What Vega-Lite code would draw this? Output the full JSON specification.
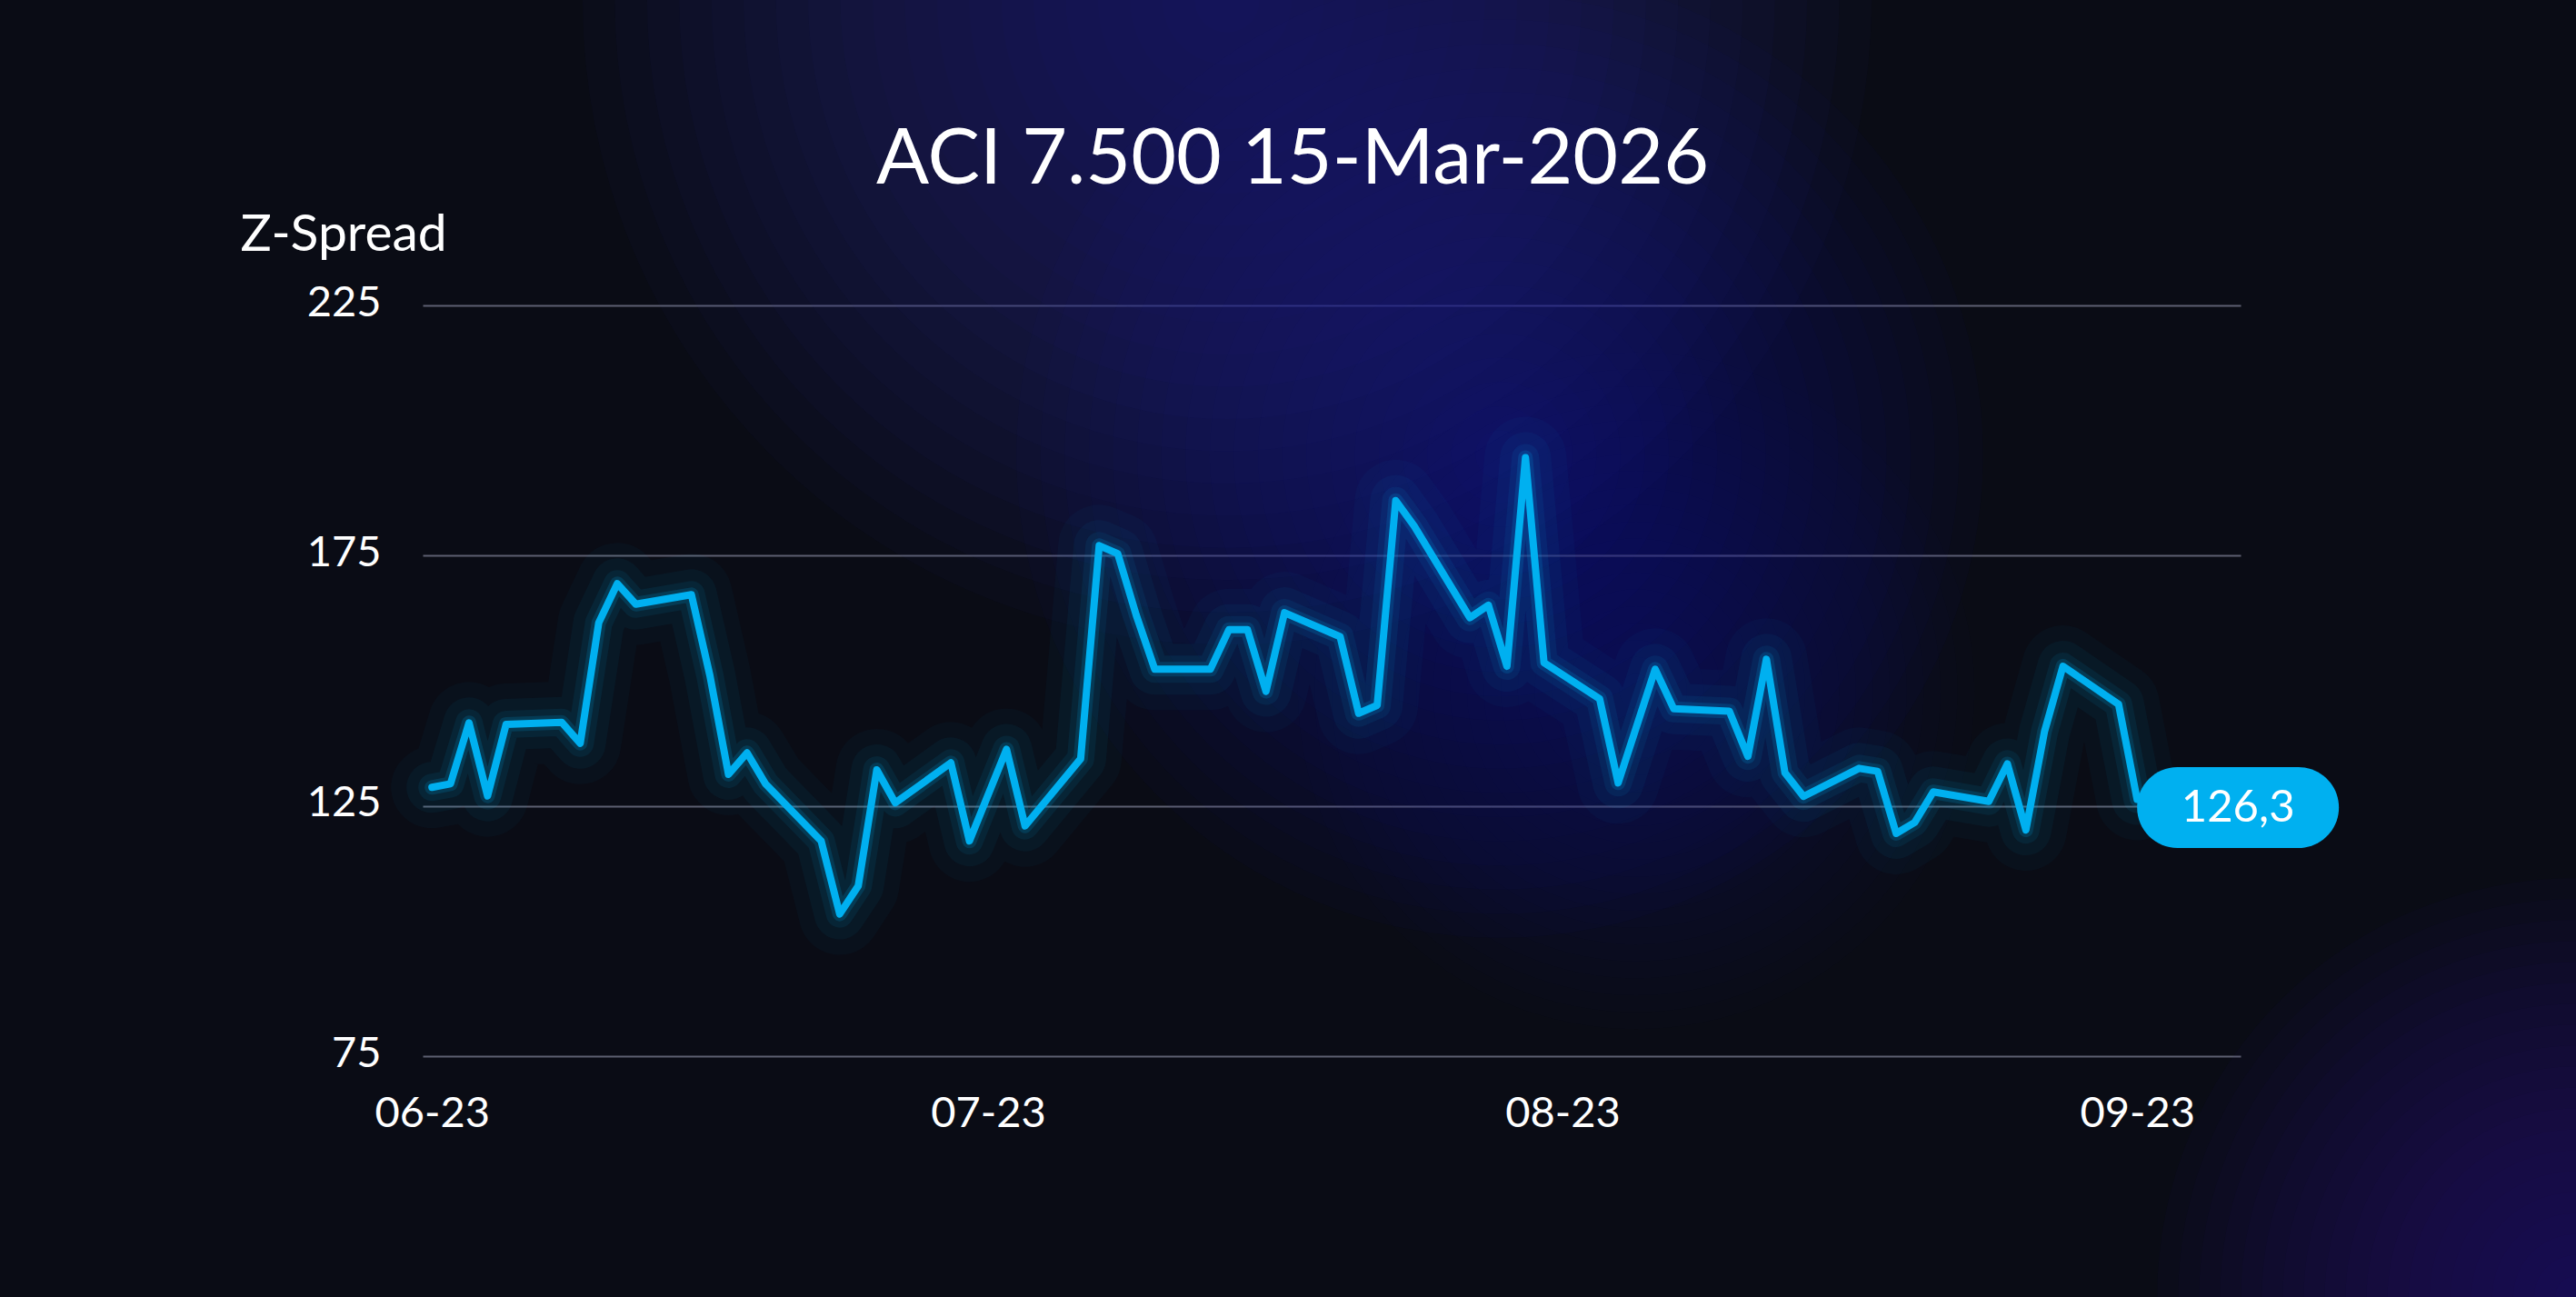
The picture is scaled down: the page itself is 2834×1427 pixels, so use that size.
{
  "$schema": "https://vega.github.io/schema/vega-lite/v6.json",
  "width": 2000,
  "height": 826,
  "autosize": {"type": "none"},
  "padding": {"left": 465, "top": 336, "right": 369, "bottom": 265},
  "background": "#0a0c15",
  "title": {
    "text": "ACI 7.500 15-Mar-2026",
    "font": "Lato",
    "fontSize": 86,
    "fontWeight": "normal",
    "color": "#ffffff",
    "anchor": "middle",
    "dx": -43,
    "baseline": "alphabetic",
    "offset": -997
  },
  "datasets": {
    "steps": [{"k": 1}, {"k": 2}, {"k": 3}, {"k": 4}, {"k": 5}, {"k": 6}, {"k": 7}, {"k": 8}, {"k": 9}, {"k": 10}, {"k": 11}, {"k": 12}, {"k": 13}, {"k": 14}, {"k": 15}, {"k": 16}, {"k": 17}, {"k": 18}, {"k": 19}, {"k": 20}],
    "series": [
      {"date": "2023-06-01T00:00:00", "value": 128.7},
      {"date": "2023-06-02T00:00:00", "value": 129.4},
      {"date": "2023-06-03T00:00:00", "value": 141.6},
      {"date": "2023-06-04T00:00:00", "value": 127.0},
      {"date": "2023-06-05T00:00:00", "value": 141.3},
      {"date": "2023-06-08T00:00:00", "value": 141.7},
      {"date": "2023-06-09T00:00:00", "value": 137.5},
      {"date": "2023-06-10T00:00:00", "value": 161.6},
      {"date": "2023-06-11T00:00:00", "value": 169.4},
      {"date": "2023-06-12T00:00:00", "value": 165.3},
      {"date": "2023-06-15T00:00:00", "value": 167.2},
      {"date": "2023-06-16T00:00:00", "value": 151.0},
      {"date": "2023-06-17T00:00:00", "value": 131.3},
      {"date": "2023-06-18T00:00:00", "value": 135.6},
      {"date": "2023-06-19T00:00:00", "value": 129.4},
      {"date": "2023-06-22T00:00:00", "value": 118.0},
      {"date": "2023-06-23T00:00:00", "value": 103.4},
      {"date": "2023-06-24T00:00:00", "value": 109.0},
      {"date": "2023-06-25T00:00:00", "value": 132.2},
      {"date": "2023-06-26T00:00:00", "value": 125.6},
      {"date": "2023-06-29T00:00:00", "value": 133.6},
      {"date": "2023-06-30T00:00:00", "value": 118.0},
      {"date": "2023-07-02T00:00:00", "value": 136.3},
      {"date": "2023-07-03T00:00:00", "value": 121.0},
      {"date": "2023-07-06T00:00:00", "value": 134.4},
      {"date": "2023-07-07T00:00:00", "value": 177.0},
      {"date": "2023-07-08T00:00:00", "value": 175.4},
      {"date": "2023-07-09T00:00:00", "value": 163.1},
      {"date": "2023-07-10T00:00:00", "value": 152.3},
      {"date": "2023-07-13T00:00:00", "value": 152.3},
      {"date": "2023-07-14T00:00:00", "value": 160.2},
      {"date": "2023-07-15T00:00:00", "value": 160.2},
      {"date": "2023-07-16T00:00:00", "value": 147.9},
      {"date": "2023-07-17T00:00:00", "value": 163.6},
      {"date": "2023-07-20T00:00:00", "value": 158.8},
      {"date": "2023-07-21T00:00:00", "value": 143.5},
      {"date": "2023-07-22T00:00:00", "value": 145.1},
      {"date": "2023-07-23T00:00:00", "value": 186.0},
      {"date": "2023-07-24T00:00:00", "value": 180.9},
      {"date": "2023-07-27T00:00:00", "value": 162.6},
      {"date": "2023-07-28T00:00:00", "value": 165.1},
      {"date": "2023-07-29T00:00:00", "value": 152.9},
      {"date": "2023-07-30T00:00:00", "value": 194.6},
      {"date": "2023-07-31T00:00:00", "value": 153.6},
      {"date": "2023-08-03T00:00:00", "value": 146.4},
      {"date": "2023-08-04T00:00:00", "value": 129.6},
      {"date": "2023-08-06T00:00:00", "value": 152.3},
      {"date": "2023-08-07T00:00:00", "value": 144.4},
      {"date": "2023-08-10T00:00:00", "value": 143.9},
      {"date": "2023-08-11T00:00:00", "value": 134.9},
      {"date": "2023-08-12T00:00:00", "value": 154.3},
      {"date": "2023-08-13T00:00:00", "value": 131.6},
      {"date": "2023-08-14T00:00:00", "value": 126.9},
      {"date": "2023-08-17T00:00:00", "value": 132.5},
      {"date": "2023-08-18T00:00:00", "value": 131.9},
      {"date": "2023-08-19T00:00:00", "value": 119.5},
      {"date": "2023-08-20T00:00:00", "value": 121.7},
      {"date": "2023-08-21T00:00:00", "value": 127.8},
      {"date": "2023-08-24T00:00:00", "value": 125.9},
      {"date": "2023-08-25T00:00:00", "value": 133.4},
      {"date": "2023-08-26T00:00:00", "value": 120.2},
      {"date": "2023-08-27T00:00:00", "value": 139.8},
      {"date": "2023-08-28T00:00:00", "value": 152.9},
      {"date": "2023-08-31T00:00:00", "value": 145.3},
      {"date": "2023-09-01T00:00:00", "value": 126.3}
    ]
  },
  "resolve": {"scale": {"size": "independent"}},
  "layer": [
    {
      "data": {"name": "steps"},
      "mark": {"type": "circle", "color": "#1e2190", "opacity": 0.051, "clip": false},
      "encoding": {
        "x": {"datum": 1689284160000, "type": "temporal", "scale": {"domain": [{"year": 2023, "month": 5, "date": 31, "hours": 12}, {"year": 2023, "month": 9, "date": 6, "hours": 14}]}},
        "y": {"datum": 286, "type": "quantitative", "scale": {"domain": [75, 225], "zero": false, "nice": false}},
        "size": {"field": "k", "type": "quantitative", "legend": null, "scale": {"type": "pow", "exponent": 2, "domain": [0, 20], "range": [0, 2010619]}}
      }
    },
    {
      "data": {"name": "steps"},
      "mark": {"type": "circle", "color": "#1e2190", "opacity": 0.038, "clip": false},
      "encoding": {
        "x": {"datum": 1690555200000, "type": "temporal", "scale": {"domain": [{"year": 2023, "month": 5, "date": 31, "hours": 12}, {"year": 2023, "month": 9, "date": 6, "hours": 14}]}},
        "y": {"datum": 195.2, "type": "quantitative", "scale": {"domain": [75, 225], "zero": false, "nice": false}},
        "size": {"field": "k", "type": "quantitative", "legend": null, "scale": {"type": "pow", "exponent": 2, "domain": [0, 20], "range": [0, 1130973]}}
      }
    },
    {
      "data": {"name": "steps"},
      "mark": {"type": "circle", "color": "#1e2190", "opacity": 0.02, "clip": false},
      "encoding": {
        "x": {"datum": 1691191080000, "type": "temporal", "scale": {"domain": [{"year": 2023, "month": 5, "date": 31, "hours": 12}, {"year": 2023, "month": 9, "date": 6, "hours": 14}]}},
        "y": {"datum": 148, "type": "quantitative", "scale": {"domain": [75, 225], "zero": false, "nice": false}},
        "size": {"field": "k", "type": "quantitative", "legend": null, "scale": {"type": "pow", "exponent": 2, "domain": [0, 20], "range": [0, 554177]}}
      }
    },
    {
      "data": {"name": "steps"},
      "mark": {"type": "circle", "color": "#221f8a", "opacity": 0.049, "clip": false},
      "encoding": {
        "x": {"datum": 1695572340000, "type": "temporal", "scale": {"domain": [{"year": 2023, "month": 5, "date": 31, "hours": 12}, {"year": 2023, "month": 9, "date": 6, "hours": 14}]}},
        "y": {"datum": 26.9, "type": "quantitative", "scale": {"domain": [75, 225], "zero": false, "nice": false}},
        "size": {"field": "k", "type": "quantitative", "legend": null, "scale": {"type": "pow", "exponent": 2, "domain": [0, 20], "range": [0, 849487]}}
      }
    },
    {
      "data": {"name": "series"},
      "encoding": {
        "x": {
          "field": "date",
          "type": "temporal",
          "title": null,
          "scale": {
            "domain": [
              {"year": 2023, "month": 5, "date": 31, "hours": 12},
              {"year": 2023, "month": 9, "date": 6, "hours": 14}
            ]
          },
          "axis": {
            "format": "%m-%y",
            "values": [
              {"year": 2023, "month": 6, "date": 1},
              {"year": 2023, "month": 7, "date": 1},
              {"year": 2023, "month": 8, "date": 1},
              {"year": 2023, "month": 9, "date": 1}
            ],
            "grid": false,
            "domain": false,
            "ticks": false,
            "labelPadding": 40,
            "labelBaseline": "top",
            "labelAlign": "center"
          }
        },
        "y": {
          "field": "value",
          "type": "quantitative",
          "scale": {"domain": [75, 225], "zero": false, "nice": false},
          "axis": {
            "values": [75, 125, 175, 225],
            "title": "Z-Spread",
            "titleAngle": 0,
            "titleAlign": "left",
            "titleBaseline": "alphabetic",
            "titleX": -201,
            "titleY": -61,
            "titleFontSize": 57,
            "titleFontWeight": "normal",
            "titleColor": "#ffffff",
            "titleFont": "Lato",
            "grid": true,
            "gridColor": "#5c5f70",
            "gridWidth": 2,
            "domain": false,
            "ticks": false,
            "labelPadding": 46,
            "labelBaseline": "alphabetic",
            "labelOffset": 11
          }
        }
      },
      "layer": [
        {
          "mark": {"type": "line", "color": "#00b0f0", "strokeWidth": 90, "opacity": 0.03, "strokeJoin": "round", "strokeCap": "round"},
          "encoding": {"order": {"value": 2}}
        },
        {
          "mark": {"type": "line", "color": "#00b0f0", "strokeWidth": 56, "opacity": 0.05, "strokeJoin": "round", "strokeCap": "round"},
          "encoding": {"order": {"value": 2}}
        },
        {
          "mark": {"type": "line", "color": "#00b0f0", "strokeWidth": 30, "opacity": 0.08, "strokeJoin": "round", "strokeCap": "round"},
          "encoding": {"order": {"value": 2}}
        },
        {
          "mark": {"type": "line", "color": "#00b0f0", "strokeWidth": 16, "opacity": 0.16, "strokeJoin": "round", "strokeCap": "round"},
          "encoding": {"order": {"value": 2}}
        },
        {
          "mark": {"type": "line", "color": "#00b0f0", "strokeWidth": 8, "strokeJoin": "round", "strokeCap": "round"},
          "encoding": {"order": {"value": 3}}
        },
        {
          "transform": [
            {"window": [{"op": "row_number", "as": "rn"}], "sort": [{"field": "date", "order": "descending"}]},
            {"filter": "datum.rn == 1"}
          ],
          "mark": {
            "type": "point",
            "shape": "M-0.6,-0.4L0.6,-0.4A0.4,0.4,0,0,1,0.6,0.4L-0.6,0.4A0.4,0.4,0,0,1,-0.6,-0.4Z",
            "size": 49284,
            "filled": true,
            "opacity": 1,
            "color": "#00b0f0",
            "xOffset": 111,
            "yOffset": 9
          },
          "encoding": {"order": {"value": 4}}
        },
        {
          "transform": [
            {"window": [{"op": "row_number", "as": "rn"}], "sort": [{"field": "date", "order": "descending"}]},
            {"filter": "datum.rn == 1"}
          ],
          "mark": {
            "type": "text",
            "font": "Lato",
            "fontSize": 49,
            "color": "#ffffff",
            "align": "center",
            "baseline": "middle",
            "xOffset": 111,
            "yOffset": 9
          },
          "encoding": {
            "text": {"field": "value", "type": "quantitative", "format": ".1f"},
            "order": {"value": 5}
          }
        }
      ]
    }
  ],
  "config": {
    "locale": {"number": {"decimal": ",", "thousands": ".", "grouping": [3], "currency": ["", " €"]}},
    "view": {"stroke": null},
    "axis": {
      "zindex": 1,
      "labelFont": "Lato",
      "labelFontSize": 47,
      "labelColor": "#ffffff",
      "labelFontWeight": "normal"
    }
  }
}
